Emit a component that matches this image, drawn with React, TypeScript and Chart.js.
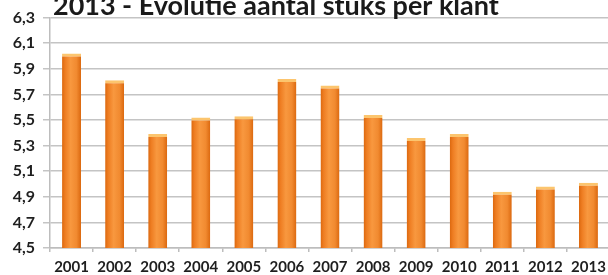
import React, { useEffect, useRef } from "react";
import { Chart, registerables } from "chart.js";

Chart.register(...registerables);

const TITLE = "2013 - Evolutie aantal stuks per klant";
const YEARS = ["2001", "2002", "2003", "2004", "2005", "2006", "2007", "2008", "2009", "2010", "2011", "2012", "2013"];
const VALUES = [6.02, 5.81, 5.39, 5.52, 5.53, 5.82, 5.77, 5.54, 5.36, 5.39, 4.94, 4.98, 5.01];
const Y_MIN = 4.5;
const Y_MAX = 6.3;
const Y_STEP = 0.2;

const FONT = "Lato, 'DejaVu Sans', sans-serif";

const titlePlugin = {
  id: "cutTitle",
  afterDraw(chart: any) {
    const { ctx, chartArea } = chart;
    ctx.save();
    ctx.font = `bold 100px ${FONT}`;
    const w = ctx.measureText(TITLE).width;
    const size = Math.min(30, (100 * 446) / w);
    ctx.font = `bold ${size}px ${FONT}`;
    ctx.fillStyle = "#1a1a1a";
    ctx.textBaseline = "alphabetic";
    ctx.textAlign = "left";
    ctx.fillText(TITLE, chartArea.left + 3, 15);
    ctx.restore();
  },
};

function barGradient(context: any) {
  const chart = context.chart;
  const xs = chart.scales && chart.scales.x;
  if (!xs || !chart.chartArea || context.dataIndex === undefined) return "#f7963f";
  const cx = xs.getPixelForValue(context.dataIndex);
  const half = 10;
  const g = chart.ctx.createLinearGradient(cx - half, 0, cx + half, 0);
  g.addColorStop(0, "#d8640b");
  g.addColorStop(0.18, "#ee7d22");
  g.addColorStop(0.45, "#f8983f");
  g.addColorStop(0.75, "#f18a30");
  g.addColorStop(1, "#d8640b");
  return g;
}

export default function App() {
  const ref = useRef<HTMLCanvasElement | null>(null);

  useEffect(() => {
    document.body.style.margin = "0";
    if (!ref.current) return;
    const chart = new Chart(ref.current, {
      type: "bar",
      data: {
        labels: YEARS,
        datasets: [
          {
            data: VALUES,
            backgroundColor: barGradient as any,
            borderColor: "#fcc56e",
            borderWidth: { top: 3, left: 0, right: 0, bottom: 0 } as any,
            borderSkipped: "bottom",
            barPercentage: 0.44,
            categoryPercentage: 1,
          },
        ],
      },
      options: {
        animation: false,
        responsive: true,
        maintainAspectRatio: false,
        layout: { padding: { top: 17, right: 2, left: 0, bottom: 0 } },
        plugins: {
          legend: { display: false },
          title: { display: false },
          tooltip: { enabled: false },
        },
        scales: {
          x: {
            offset: true,
            grid: {
              offset: true,
              drawOnChartArea: false,
              drawTicks: true,
              tickLength: 4,
              color: "#bdbdbd",
              lineWidth: 1.5,
            },
            border: { display: true, color: "#bdbdbd", width: 1.5 },
            ticks: {
              color: "#1f1f1f",
              font: { family: FONT, size: 15, weight: "bold" },
              padding: 6,
              maxRotation: 0,
              autoSkip: false,
            },
            afterFit: (scale: any) => {
              scale.height = 27;
            },
          },
          y: {
            min: Y_MIN,
            max: Y_MAX,
            grid: {
              color: "#c4c4c4",
              lineWidth: 1.5,
              drawTicks: true,
              tickLength: 7,
            },
            border: { display: true, color: "#bdbdbd", width: 1.5 },
            ticks: {
              stepSize: Y_STEP,
              color: "#1f1f1f",
              font: { family: FONT, size: 16, weight: "bold" },
              padding: 8,
              callback: (v: any) => Number(v).toFixed(1).replace(".", ","),
            },
            afterFit: (scale: any) => {
              scale.width = 50;
            },
          },
        },
      },
      plugins: [titlePlugin],
    });
    return () => chart.destroy();
  }, []);

  return (
    <div style={{ position: "relative", width: 608, height: 275, overflow: "hidden", background: "#fff" }}>
      <div style={{ position: "absolute", left: 0, top: 0, width: 612, height: 275 }}>
        <canvas ref={ref} />
      </div>
    </div>
  );
}
